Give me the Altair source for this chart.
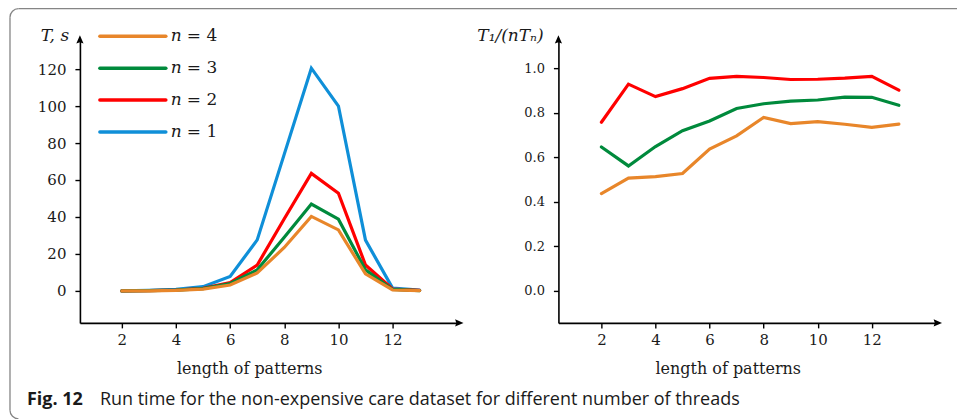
import math
import altair as alt
import pandas as pd

# ---------------- data ----------------
lengths = list(range(2, 14))
series_names = ["n = 1", "n = 2", "n = 3", "n = 4"]
series_colors = ["#0F8FD8", "#FF0000", "#008A3C", "#E8862A"]

time_n1 = [0.0, 0.3, 0.9, 2.3, 7.8, 27.6, 74.0, 120.5, 100.0, 27.5, 1.5, 0.4]
time_n2 = [0.0, 0.15, 0.5, 1.4, 4.5, 14.0, 39.0, 63.6, 52.8, 14.0, 1.0, 0.3]
time_n3 = [0.0, 0.1, 0.4, 1.2, 4.0, 11.4, 29.0, 47.0, 38.8, 11.4, 0.8, 0.2]
time_n4 = [0.0, 0.05, 0.3, 1.0, 3.2, 9.7, 23.5, 40.3, 33.0, 9.2, 0.5, 0.2]

eff_n2 = [0.757, 0.928, 0.872, 0.908, 0.954, 0.963, 0.958, 0.949, 0.950, 0.955, 0.963, 0.901]
eff_n3 = [0.646, 0.561, 0.648, 0.719, 0.763, 0.819, 0.840, 0.852, 0.857, 0.870, 0.869, 0.833]
eff_n4 = [0.437, 0.506, 0.513, 0.527, 0.637, 0.696, 0.779, 0.751, 0.760, 0.748, 0.734, 0.749]

time_ticks = [0, 20, 40, 60, 80, 100, 120]
eff_ticks = [0.0, 0.2, 0.4, 0.6, 0.8, 1.0]
length_ticks = [2, 4, 6, 8, 10, 12]

left_x_domain = [0.45, 14.4]
left_y_domain = [-17.3, 135.1]
right_x_domain = [0.41, 14.375]
right_y_domain = [-0.1435, 1.121]

caption_bold = "Fig. 12"
caption_text = "Run time for the non-expensive care dataset for different number of threads"
x_title = "length of patterns"

# ---------------- tables ----------------
time_rows = []
for name, vals in zip(series_names, [time_n1, time_n2, time_n3, time_n4]):
    for L, v in zip(lengths, vals):
        time_rows.append({"length": L, "value": v, "series": name})
df_time = pd.DataFrame(time_rows)

eff_rows = []
for name, vals in zip(series_names[1:], [eff_n2, eff_n3, eff_n4]):
    for L, v in zip(lengths, vals):
        eff_rows.append({"length": L, "value": v, "series": name})
df_eff = pd.DataFrame(eff_rows)

SERIF = "DejaVu Serif"
SANS = "Open Sans"
W, H = 378, 282

color_enc = alt.Color("series:N", scale=alt.Scale(domain=series_names, range=series_colors), legend=None)


def axis(values, size, pad, fmt=None):
    kw = dict(values=values, title=None, grid=False, domainColor="black", domainWidth=1.6,
              tickColor="black", tickWidth=1.4, tickSize=5, labelFont=SERIF,
              labelFontSize=size, labelPadding=pad, labelColor="#1a1a1a", zindex=1)
    if fmt:
        kw["format"] = fmt
    return alt.Axis(**kw)


def arrows(xdom, ydom, xs, ys):
    up = pd.DataFrame({"x": [xdom[0]], "y": [ydom[1]]})
    right = pd.DataFrame({"x": [xdom[1]], "y": [ydom[0]]})
    a1 = alt.Chart(up).mark_point(shape="M0,-1L0.6,0.4L0,0.2L-0.6,0.4Z", filled=True,
                                  color="black", size=144, opacity=1).encode(
        x=alt.X("x:Q", scale=xs), y=alt.Y("y:Q", scale=ys))
    a2 = alt.Chart(right).mark_point(shape="M1,0L-0.4,0.6L-0.2,0L-0.4,-0.6Z", filled=True,
                                     color="black", size=144, opacity=1).encode(
        x=alt.X("x:Q", scale=xs), y=alt.Y("y:Q", scale=ys))
    return [a1, a2]


def txt(text, x, y, size, style="normal", weight="normal", font=SERIF, align="left", color="#1a1a1a"):
    return alt.Chart(pd.DataFrame({"t": [text]})).mark_text(
        align=align, baseline="middle", font=font, fontSize=size, fontStyle=style,
        fontWeight=weight, color=color).encode(x=alt.value(x), y=alt.value(y), text="t:N")


# ---------------- left panel ----------------
lxs = alt.Scale(domain=left_x_domain, nice=False, zero=False)
lys = alt.Scale(domain=left_y_domain, nice=False, zero=False)

base_dummy = pd.DataFrame({"a": [0]})
bg = alt.Chart(base_dummy).mark_rect(color="white", opacity=1).encode(
    x=alt.value(-80), x2=alt.value(878), y=alt.value(-41), y2=alt.value(378))

border_col = "#858585"
top_rule = alt.Chart(base_dummy).mark_rule(color=border_col, strokeWidth=1.3).encode(
    x=alt.value(-61.5), x2=alt.value(878), y=alt.value(-32.5))
left_rule = alt.Chart(base_dummy).mark_rule(color=border_col, strokeWidth=1.3).encode(
    x=alt.value(-70), y=alt.value(-24), y2=alt.value(369.5))
arc_tl = alt.Chart(base_dummy).mark_arc(color=border_col, radius=9.15, radius2=7.85,
                                         theta=3 * math.pi / 2, theta2=2 * math.pi).encode(
    x=alt.value(-61.5), y=alt.value(-24))
arc_bl = alt.Chart(base_dummy).mark_arc(color=border_col, radius=9.15, radius2=7.85,
                                         theta=math.pi, theta2=3 * math.pi / 2).encode(
    x=alt.value(-61.5), y=alt.value(369.5))

left_lines = alt.Chart(df_time).mark_line(strokeWidth=3.2, strokeCap="round").encode(
    x=alt.X("length:Q", scale=lxs, axis=axis(length_ticks, 15, 5)),
    y=alt.Y("value:Q", scale=lys, axis=axis(time_ticks, 15, 9)),
    color=color_enc,
)

legend_layers = []
for i, (name, col) in enumerate(zip(series_names[::-1], series_colors[::-1])):
    yy = -5 + 32 * i
    legend_layers.append(alt.Chart(base_dummy).mark_rule(color=col, strokeWidth=3.5, strokeCap="round").encode(
        x=alt.value(20), x2=alt.value(86), y=alt.value(yy)))
    legend_layers.append(txt("n", 91, yy, 17, style="italic"))
    legend_layers.append(txt(name.split("n ")[1], 107, yy, 17))

left = alt.layer(
    bg, top_rule, left_rule, arc_tl, arc_bl,
    left_lines,
    *arrows(left_x_domain, left_y_domain, lxs, lys),
    *legend_layers,
    txt("T, s", -25, -5, 17, style="italic", align="center"),
    txt(x_title, 170, 328, 16, align="center"),
    txt(caption_bold, -53, 359, 18, weight="bold", font=SANS, color="#1a1a1a"),
    txt(caption_text, 20, 359, 18, font=SANS, color="#1a1a1a"),
).properties(width=W, height=H)

# ---------------- right panel ----------------
rxs = alt.Scale(domain=right_x_domain, nice=False, zero=False)
rys = alt.Scale(domain=right_y_domain, nice=False, zero=False)

right_lines = alt.Chart(df_eff).mark_line(strokeWidth=3.2, strokeCap="round").encode(
    x=alt.X("length:Q", scale=rxs, axis=axis(length_ticks, 15, 5)),
    y=alt.Y("value:Q", scale=rys, axis=axis(eff_ticks, 13, 9, ".1f")),
    color=color_enc,
)

right = alt.layer(
    right_lines,
    *arrows(right_x_domain, right_y_domain, rxs, rys),
    txt("T₁/(nTₙ)", -48, -5, 17, style="italic", align="center"),
    txt(x_title, 170, 328, 16, align="center"),
).properties(width=W, height=H)

chart = alt.hconcat(left, right, spacing=101, bounds="flush").properties(padding=0).configure_view(stroke=None)

chart.save("out.html", embed_options={"renderer": "svg", "actions": False})
